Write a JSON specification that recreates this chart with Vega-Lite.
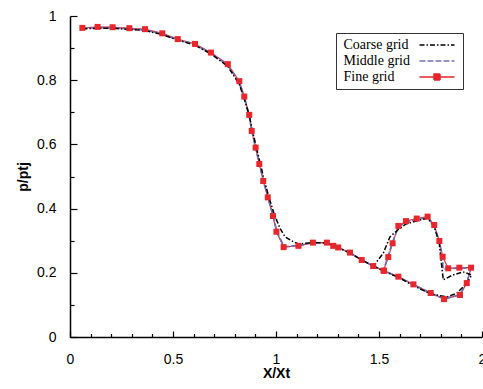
{
  "$schema": "https://vega.github.io/schema/vega-lite/v6.json",
  "width": 412,
  "height": 321,
  "autosize": {"type": "none"},
  "padding": {"left": 70, "top": 16, "right": 1, "bottom": 52},
  "background": "white",
  "config": {
    "view": {"stroke": null},
    "axis": {
      "grid": false,
      "domainColor": "#000",
      "domainWidth": 1.5,
      "tickColor": "#000",
      "tickWidth": 1.2,
      "labelFont": "Liberation Sans",
      "labelFontSize": 14,
      "labelColor": "#000",
      "titleFont": "Liberation Sans",
      "titleFontSize": 14,
      "titleFontWeight": "bold",
      "titleColor": "#000"
    }
  },
  "data": {
    "values": [
      {"series": "Coarse grid", "i": 1, "x": 0.06, "y": 0.960},
      {"series": "Coarse grid", "i": 2, "x": 0.134, "y": 0.962},
      {"series": "Coarse grid", "i": 3, "x": 0.207, "y": 0.962},
      {"series": "Coarse grid", "i": 4, "x": 0.288, "y": 0.958},
      {"series": "Coarse grid", "i": 5, "x": 0.364, "y": 0.955},
      {"series": "Coarse grid", "i": 6, "x": 0.448, "y": 0.942},
      {"series": "Coarse grid", "i": 7, "x": 0.523, "y": 0.925},
      {"series": "Coarse grid", "i": 8, "x": 0.607, "y": 0.909},
      {"series": "Coarse grid", "i": 9, "x": 0.684, "y": 0.882},
      {"series": "Coarse grid", "i": 10, "x": 0.766, "y": 0.843},
      {"series": "Coarse grid", "i": 11, "x": 0.822, "y": 0.787},
      {"series": "Coarse grid", "i": 12, "x": 0.846, "y": 0.742},
      {"series": "Coarse grid", "i": 13, "x": 0.870, "y": 0.690},
      {"series": "Coarse grid", "i": 14, "x": 0.886, "y": 0.642},
      {"series": "Coarse grid", "i": 15, "x": 0.905, "y": 0.590},
      {"series": "Coarse grid", "i": 16, "x": 0.924, "y": 0.539},
      {"series": "Coarse grid", "i": 17, "x": 0.944, "y": 0.486},
      {"series": "Coarse grid", "i": 18, "x": 0.966, "y": 0.435},
      {"series": "Coarse grid", "i": 19, "x": 0.990, "y": 0.385},
      {"series": "Coarse grid", "i": 20, "x": 1.019, "y": 0.339},
      {"series": "Coarse grid", "i": 21, "x": 1.044, "y": 0.312},
      {"series": "Coarse grid", "i": 22, "x": 1.084, "y": 0.297},
      {"series": "Coarse grid", "i": 23, "x": 1.110, "y": 0.290},
      {"series": "Coarse grid", "i": 24, "x": 1.179, "y": 0.294},
      {"series": "Coarse grid", "i": 25, "x": 1.247, "y": 0.293},
      {"series": "Coarse grid", "i": 26, "x": 1.302, "y": 0.278},
      {"series": "Coarse grid", "i": 27, "x": 1.359, "y": 0.262},
      {"series": "Coarse grid", "i": 28, "x": 1.416, "y": 0.240},
      {"series": "Coarse grid", "i": 29, "x": 1.472, "y": 0.221},
      {"series": "Coarse grid", "i": 30, "x": 1.524, "y": 0.205},
      {"series": "Coarse grid", "i": 31, "x": 1.594, "y": 0.186},
      {"series": "Coarse grid", "i": 32, "x": 1.667, "y": 0.160},
      {"series": "Coarse grid", "i": 33, "x": 1.751, "y": 0.134},
      {"series": "Coarse grid", "i": 34, "x": 1.829, "y": 0.125},
      {"series": "Coarse grid", "i": 35, "x": 1.877, "y": 0.136},
      {"series": "Coarse grid", "i": 36, "x": 1.926, "y": 0.167},
      {"series": "Coarse grid", "i": 37, "x": 1.950, "y": 0.193},
      {"series": "Coarse grid", "i": 38, "x": 1.908, "y": 0.203},
      {"series": "Coarse grid", "i": 39, "x": 1.854, "y": 0.192},
      {"series": "Coarse grid", "i": 40, "x": 1.812, "y": 0.178},
      {"series": "Coarse grid", "i": 41, "x": 1.804, "y": 0.224},
      {"series": "Coarse grid", "i": 42, "x": 1.793, "y": 0.290},
      {"series": "Coarse grid", "i": 43, "x": 1.768, "y": 0.345},
      {"series": "Coarse grid", "i": 44, "x": 1.736, "y": 0.370},
      {"series": "Coarse grid", "i": 45, "x": 1.683, "y": 0.362},
      {"series": "Coarse grid", "i": 46, "x": 1.631, "y": 0.352},
      {"series": "Coarse grid", "i": 47, "x": 1.594, "y": 0.335},
      {"series": "Coarse grid", "i": 48, "x": 1.553, "y": 0.312},
      {"series": "Coarse grid", "i": 49, "x": 1.521, "y": 0.261},
      {"series": "Coarse grid", "i": 50, "x": 1.480, "y": 0.227},
      {"series": "Coarse grid", "i": 51, "x": 1.472, "y": 0.221},

      {"series": "Middle grid", "i": 1, "x": 0.06, "y": 0.962},
      {"series": "Middle grid", "i": 2, "x": 0.134, "y": 0.964},
      {"series": "Middle grid", "i": 3, "x": 0.207, "y": 0.963},
      {"series": "Middle grid", "i": 4, "x": 0.288, "y": 0.960},
      {"series": "Middle grid", "i": 5, "x": 0.364, "y": 0.957},
      {"series": "Middle grid", "i": 6, "x": 0.448, "y": 0.944},
      {"series": "Middle grid", "i": 7, "x": 0.523, "y": 0.926},
      {"series": "Middle grid", "i": 8, "x": 0.607, "y": 0.911},
      {"series": "Middle grid", "i": 9, "x": 0.684, "y": 0.884},
      {"series": "Middle grid", "i": 10, "x": 0.766, "y": 0.847},
      {"series": "Middle grid", "i": 11, "x": 0.822, "y": 0.793},
      {"series": "Middle grid", "i": 12, "x": 0.846, "y": 0.746},
      {"series": "Middle grid", "i": 13, "x": 0.870, "y": 0.690},
      {"series": "Middle grid", "i": 14, "x": 0.883, "y": 0.640},
      {"series": "Middle grid", "i": 15, "x": 0.902, "y": 0.588},
      {"series": "Middle grid", "i": 16, "x": 0.920, "y": 0.537},
      {"series": "Middle grid", "i": 17, "x": 0.940, "y": 0.484},
      {"series": "Middle grid", "i": 18, "x": 0.962, "y": 0.433},
      {"series": "Middle grid", "i": 19, "x": 0.987, "y": 0.375},
      {"series": "Middle grid", "i": 20, "x": 1.005, "y": 0.326},
      {"series": "Middle grid", "i": 21, "x": 1.040, "y": 0.281},
      {"series": "Middle grid", "i": 22, "x": 1.109, "y": 0.285},
      {"series": "Middle grid", "i": 23, "x": 1.179, "y": 0.294},
      {"series": "Middle grid", "i": 24, "x": 1.247, "y": 0.293},
      {"series": "Middle grid", "i": 25, "x": 1.278, "y": 0.284},
      {"series": "Middle grid", "i": 26, "x": 1.302, "y": 0.278},
      {"series": "Middle grid", "i": 27, "x": 1.359, "y": 0.262},
      {"series": "Middle grid", "i": 28, "x": 1.416, "y": 0.240},
      {"series": "Middle grid", "i": 29, "x": 1.472, "y": 0.221},
      {"series": "Middle grid", "i": 30, "x": 1.524, "y": 0.206},
      {"series": "Middle grid", "i": 31, "x": 1.594, "y": 0.187},
      {"series": "Middle grid", "i": 32, "x": 1.667, "y": 0.163},
      {"series": "Middle grid", "i": 33, "x": 1.751, "y": 0.136},
      {"series": "Middle grid", "i": 34, "x": 1.816, "y": 0.119},
      {"series": "Middle grid", "i": 35, "x": 1.893, "y": 0.132},
      {"series": "Middle grid", "i": 36, "x": 1.926, "y": 0.170},
      {"series": "Middle grid", "i": 37, "x": 1.947, "y": 0.214},
      {"series": "Middle grid", "i": 38, "x": 1.890, "y": 0.215},
      {"series": "Middle grid", "i": 39, "x": 1.836, "y": 0.213},
      {"series": "Middle grid", "i": 40, "x": 1.810, "y": 0.213},
      {"series": "Middle grid", "i": 41, "x": 1.808, "y": 0.250},
      {"series": "Middle grid", "i": 42, "x": 1.792, "y": 0.298},
      {"series": "Middle grid", "i": 43, "x": 1.767, "y": 0.348},
      {"series": "Middle grid", "i": 44, "x": 1.736, "y": 0.372},
      {"series": "Middle grid", "i": 45, "x": 1.683, "y": 0.366},
      {"series": "Middle grid", "i": 46, "x": 1.631, "y": 0.358},
      {"series": "Middle grid", "i": 47, "x": 1.594, "y": 0.343},
      {"series": "Middle grid", "i": 48, "x": 1.564, "y": 0.292},
      {"series": "Middle grid", "i": 49, "x": 1.543, "y": 0.249},
      {"series": "Middle grid", "i": 50, "x": 1.522, "y": 0.208},

      {"series": "Fine grid", "i": 1, "x": 0.06, "y": 0.963},
      {"series": "Fine grid", "i": 2, "x": 0.134, "y": 0.966},
      {"series": "Fine grid", "i": 3, "x": 0.207, "y": 0.965},
      {"series": "Fine grid", "i": 4, "x": 0.288, "y": 0.962},
      {"series": "Fine grid", "i": 5, "x": 0.364, "y": 0.959},
      {"series": "Fine grid", "i": 6, "x": 0.448, "y": 0.946},
      {"series": "Fine grid", "i": 7, "x": 0.523, "y": 0.928},
      {"series": "Fine grid", "i": 8, "x": 0.607, "y": 0.913},
      {"series": "Fine grid", "i": 9, "x": 0.684, "y": 0.886},
      {"series": "Fine grid", "i": 10, "x": 0.766, "y": 0.850},
      {"series": "Fine grid", "i": 11, "x": 0.822, "y": 0.797},
      {"series": "Fine grid", "i": 12, "x": 0.846, "y": 0.749},
      {"series": "Fine grid", "i": 13, "x": 0.870, "y": 0.692},
      {"series": "Fine grid", "i": 14, "x": 0.882, "y": 0.642},
      {"series": "Fine grid", "i": 15, "x": 0.901, "y": 0.590},
      {"series": "Fine grid", "i": 16, "x": 0.919, "y": 0.539},
      {"series": "Fine grid", "i": 17, "x": 0.938, "y": 0.486},
      {"series": "Fine grid", "i": 18, "x": 0.960, "y": 0.435},
      {"series": "Fine grid", "i": 19, "x": 0.985, "y": 0.377},
      {"series": "Fine grid", "i": 20, "x": 1.002, "y": 0.328},
      {"series": "Fine grid", "i": 21, "x": 1.037, "y": 0.280},
      {"series": "Fine grid", "i": 22, "x": 1.109, "y": 0.284},
      {"series": "Fine grid", "i": 23, "x": 1.179, "y": 0.294},
      {"series": "Fine grid", "i": 24, "x": 1.247, "y": 0.294},
      {"series": "Fine grid", "i": 25, "x": 1.278, "y": 0.284},
      {"series": "Fine grid", "i": 26, "x": 1.302, "y": 0.279},
      {"series": "Fine grid", "i": 27, "x": 1.359, "y": 0.263},
      {"series": "Fine grid", "i": 28, "x": 1.416, "y": 0.240},
      {"series": "Fine grid", "i": 29, "x": 1.472, "y": 0.221},
      {"series": "Fine grid", "i": 30, "x": 1.524, "y": 0.206},
      {"series": "Fine grid", "i": 31, "x": 1.594, "y": 0.188},
      {"series": "Fine grid", "i": 32, "x": 1.667, "y": 0.164},
      {"series": "Fine grid", "i": 33, "x": 1.751, "y": 0.137},
      {"series": "Fine grid", "i": 34, "x": 1.816, "y": 0.118},
      {"series": "Fine grid", "i": 35, "x": 1.893, "y": 0.131},
      {"series": "Fine grid", "i": 36, "x": 1.926, "y": 0.168},
      {"series": "Fine grid", "i": 37, "x": 1.947, "y": 0.216},
      {"series": "Fine grid", "i": 38, "x": 1.890, "y": 0.216},
      {"series": "Fine grid", "i": 39, "x": 1.836, "y": 0.214},
      {"series": "Fine grid", "i": 40, "x": 1.809, "y": 0.250},
      {"series": "Fine grid", "i": 41, "x": 1.793, "y": 0.299},
      {"series": "Fine grid", "i": 42, "x": 1.768, "y": 0.349},
      {"series": "Fine grid", "i": 43, "x": 1.736, "y": 0.375},
      {"series": "Fine grid", "i": 44, "x": 1.683, "y": 0.369},
      {"series": "Fine grid", "i": 45, "x": 1.631, "y": 0.361},
      {"series": "Fine grid", "i": 46, "x": 1.594, "y": 0.346},
      {"series": "Fine grid", "i": 47, "x": 1.566, "y": 0.292},
      {"series": "Fine grid", "i": 48, "x": 1.545, "y": 0.249},
      {"series": "Fine grid", "i": 49, "x": 1.522, "y": 0.207}
    ]
  },
  "encoding": {
    "x": {
      "field": "x", "type": "quantitative",
      "scale": {"domain": [0, 2], "nice": false, "zero": false},
      "axis": {
        "title": "X/Xt",
        "titlePadding": -2,
        "values": [0, 0.1, 0.2, 0.3, 0.4, 0.5, 0.6, 0.7, 0.8, 0.9, 1, 1.1, 1.2, 1.3, 1.4, 1.5, 1.6, 1.7, 1.8, 1.9, 2],
        "labelExpr": "round(datum.value*10)%5==0 ? format(datum.value,'~g') : ''",
        "tickSize": {"condition": {"test": "round(datum.value*10)%5==0", "value": -6}, "value": -3.5},
        "labelPadding": 21,
        "labelFlush": false,
        "labelOverlap": false
      }
    },
    "y": {
      "field": "y", "type": "quantitative",
      "scale": {"domain": [0, 1], "nice": false, "zero": false},
      "axis": {
        "title": "p/ptj",
        "titlePadding": 6,
        "values": [0, 0.1, 0.2, 0.3, 0.4, 0.5, 0.6, 0.7, 0.8, 0.9, 1],
        "labelExpr": "round(datum.value*10)%2==0 ? format(datum.value,'~g') : ''",
        "tickSize": {"condition": {"test": "round(datum.value*10)%2==0", "value": -7}, "value": -4},
        "labelPadding": 21,
        "labelFlush": false,
        "labelOverlap": false
      }
    },
    "color": {
      "field": "series", "type": "nominal",
      "scale": {"domain": ["Coarse grid", "Middle grid", "Fine grid"], "range": ["#000000", "#7070b4", "#e8262c"]},
      "legend": {
        "title": null,
        "orient": "none",
        "legendX": 266,
        "legendY": 17,
        "direction": "vertical",
        "fillColor": "white",
        "strokeColor": "#333",
        "padding": 5,
        "labelFont": "Liberation Serif",
        "labelFontSize": 14,
        "labelColor": "#000",
        "symbolOffset": 89,
        "labelOffset": -100.5,
        "symbolSize": 100,
        "symbolStrokeWidth": 1.5,
        "rowPadding": 2,
        "encode": {
          "symbols": {
            "update": {
              "shape": {"signal": "datum.value === 'Fine grid' ? 'M-3.5,0H3.5M-0.6,-0.6H0.6V0.6H-0.6Z' : 'M-3.5,0H3.5'"},
              "fill": {"signal": "datum.value === 'Fine grid' ? '#e8262c' : 'transparent'"}
            }
          }
        }
      }
    },
    "strokeDash": {
      "field": "series", "type": "nominal",
      "scale": {"domain": ["Coarse grid", "Middle grid", "Fine grid"], "range": [[5, 2, 1.5, 2], [6, 2], [1, 0]]}
    },
    "order": {"field": "i", "type": "quantitative"}
  },
  "layer": [
    {
      "transform": [{"filter": "datum.series === 'Fine grid'"}],
      "mark": {"type": "line", "strokeWidth": 1.1}
    },
    {
      "transform": [{"filter": "datum.series === 'Middle grid'"}],
      "mark": {"type": "line", "strokeWidth": 1.8}
    },
    {
      "transform": [{"filter": "datum.series === 'Coarse grid'"}],
      "mark": {"type": "line", "strokeWidth": 1.5}
    },
    {
      "transform": [{"filter": "datum.series === 'Fine grid'"}],
      "mark": {"type": "point", "shape": "square", "filled": true, "size": 36, "opacity": 1},
      "encoding": {
        "color": {"value": "#e8262c"},
        "strokeDash": {"value": [1, 0]}
      }
    }
  ]
}
